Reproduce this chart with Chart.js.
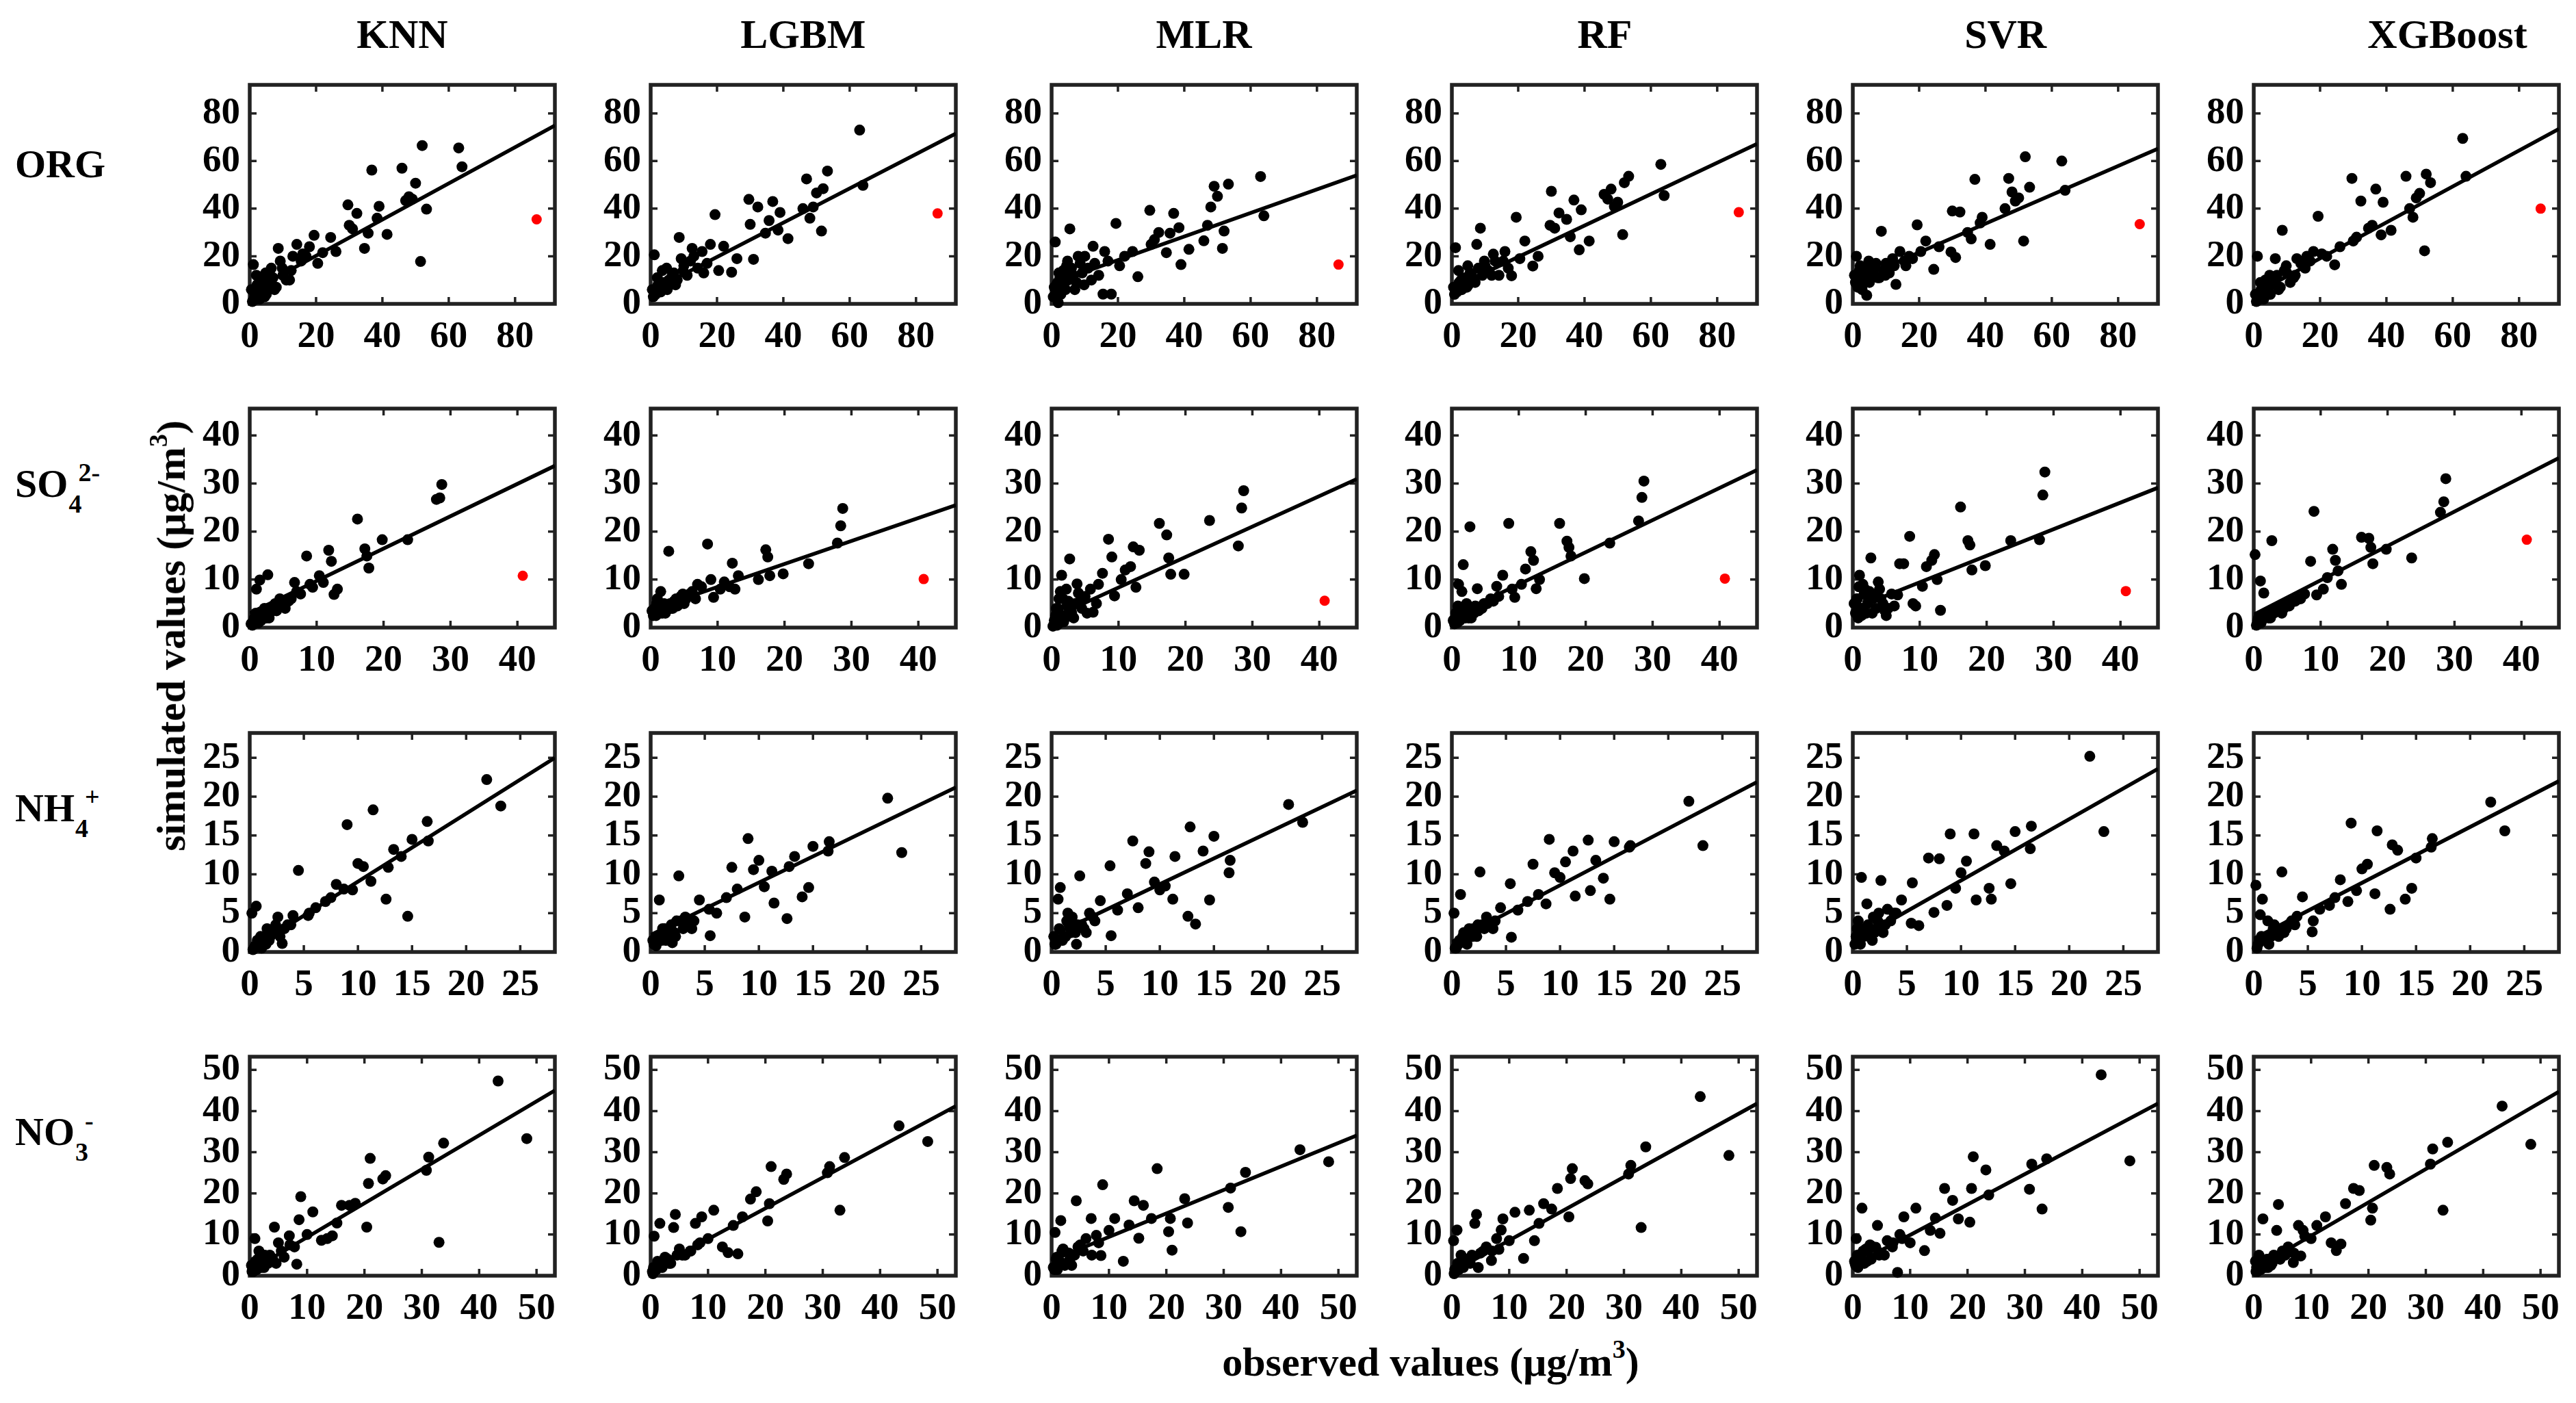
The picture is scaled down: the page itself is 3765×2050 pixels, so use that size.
<!DOCTYPE html>
<html>
<head>
<meta charset="utf-8">
<script src="https://cdn.jsdelivr.net/npm/chart.js@4.4.1/dist/chart.umd.min.js"></script>
<style>
body { margin: 0; background: #fff; }
#fig { position: relative; width: 3765px; height: 2050px; background: #fff; overflow: hidden;
  font-family: "Liberation Serif", "Times New Roman", serif; font-weight: bold; color: #000; }
#fig canvas { position: absolute; }
.lbl { position: absolute; line-height: 1; white-space: nowrap; font-size: 60px; }
.ctr { transform: translate(-50%, -50%); }
.row { transform: translate(0, -50%); font-size: 58px; }
.ion { display: inline-flex; flex-direction: column; align-items: flex-start; font-size: 38px;
  line-height: 1; vertical-align: middle; row-gap: 8px; margin-left: 1px; }
.ion .up { margin-left: 14px; }
sup { font-size: 38px; vertical-align: 26px; line-height: 0; }
</style>
</head>
<body>
<div id="fig"></div>
<script>
'use strict';
var models = ['KNN', 'LGBM', 'MLR', 'RF', 'SVR', 'XGBoost'];

// ORG (observed, then simulated per model)
var orgObs = [64.0, 63.0, 53.3, 52.0, 51.5, 50.0, 49.0, 48.0, 47.0, 45.9,
    41.4, 39.0, 38.4, 36.8, 35.7, 34.6, 32.3, 31.0, 30.0, 29.6,
    24.4, 22.0, 19.4, 17.0, 15.5, 14.2, 12.5, 11.0, 10.0, 8.6,
    7.5, 6.5, 5.5, 5.0, 4.2, 3.5, 3.0, 2.5, 2.0, 1.5,
    1.1, 0.8, 0.5, 9.2, 13.0, 18.0, 20.5, 26.0, 4.8, 2.2,
    3.8, 6.0, 7.0, 8.0, 1.8, 2.8, 4.5, 9.8, 12.0, 16.0];
var orgKNN = [57.6, 65.5, 39.8, 66.5, 17.8, 50.7, 44, 45, 43.4, 57,
    29.2, 41, 36, 56.2, 29.7, 23.3, 38, 31.5, 33, 41.6,
    27.9, 21.5, 28.8, 20, 18, 25, 14, 10, 12, 23.3,
    6, 15, 9, 4, 7, 10, 2, 5, 12, 3,
    16.5, 1, 6, 18, 20, 24, 17, 22, 13, 8,
    4, 8, 11, 7, 2, 5, 3, 15, 10, 21];
var orgLGBM = [49.8, 73, 55.8, 48.4, 30.6, 46.6, 40.7, 36, 52.5, 40,
    27.4, 38.4, 31, 43, 35, 29.7, 40.7, 18.7, 33.4, 43.9,
    13.3, 24.2, 37.5, 17, 22, 15, 23.3, 12, 16, 27.9,
    8, 12, 10, 6, 9, 14, 5, 7, 11, 4,
    20.6, 3, 6, 19, 20, 25, 14, 19, 15, 8,
    7, 9, 13, 10, 5, 6, 8, 14, 18, 13];
var orgMLR = [37, 53.5, 50.3, 30.6, 23.3, 45.2, 49.4, 40.7, 33, 26.5,
    22.9, 16.5, 32, 38, 29.7, 21.5, 30, 27, 25, 39.3,
    22, 20, 33.8, 18, 4.1, 12, 24.2, 15, 20, 17,
    9, 12, 31.5, 10, 6, 14, 8, 11, 0.5, 5,
    26, 7, 3, 13, 17, 4.1, 16, 11.4, 18, 13,
    12, 15, 6, 20, 9, 4, 16, 8, 10, 22];
var orgRF = [45.5, 58.6, 53.6, 50.9, 29.1, 42.7, 40.9, 48.2, 44, 46,
    26.4, 39.5, 22.7, 43.6, 28.2, 35.5, 38.2, 31.8, 47.3, 33,
    15.9, 26.4, 36.4, 15, 18, 12, 20.9, 14, 16, 31.8,
    25, 10, 13, 8, 11, 9, 6, 7, 14, 5,
    23.6, 4, 7, 12, 18, 11.8, 19, 20, 16, 9,
    8, 12, 9, 15, 6, 10, 7, 18, 12, 22];
var orgSVR = [47.7, 60, 49, 61.8, 26.4, 44.5, 43.2, 47, 52.7, 40,
    25, 36.4, 34, 52.3, 27.3, 30, 38.6, 19.5, 39, 21.8,
    14.5, 26.4, 33.2, 20, 18, 22, 16, 13, 17, 30.5,
    11, 15, 12, 9, 3.6, 13, 8, 10, 14, 7,
    20, 9, 12, 14, 8.2, 19, 22, 24, 18, 16,
    10, 14, 17, 11, 13, 6, 15, 12, 19, 16];
var orgXGB = [53.6, 69.5, 50.9, 54.5, 22.3, 46.4, 44.5, 36.4, 40, 53.6,
    30.9, 42.7, 29, 48.2, 33, 31.8, 43.2, 28, 26.4, 52.7,
    16.4, 20, 36.8, 18, 15, 17, 12, 9, 13, 30.9,
    6, 19, 8, 4, 7, 10, 2, 5, 9, 3,
    20, 1, 4, 14, 19, 22, 21, 24, 12, 6,
    5, 9, 12, 7, 2, 6, 4, 16, 11, 20];
var orgOutlierObs = 86.5;
var orgOutlierSim = [35.5, 38, 16.5, 38.5, 33.5, 40];
var orgSlope = [0.76, 0.72, 0.495, 0.66, 0.605, 0.755];
var orgIntercept = [5, 5.3, 8.5, 6.5, 9.5, 4];
var orgMax = 92;
var orgTicks = [0, 20, 40, 60, 80];

// SO4 2-
var so4Obs = [28.7, 28.4, 27.9, 23.6, 19.8, 17.8, 17.5, 17.2, 16.1, 13.1,
    12.6, 12.2, 11.8, 11.0, 10.4, 9.4, 8.5, 7.6, 6.7, 5.8,
    5.0, 4.5, 4.0, 3.5, 3.0, 2.7, 2.3, 2.0, 1.7, 1.5,
    1.2, 1.0, 0.8, 0.6, 0.4, 0.2, 3.8, 6.2, 2.5, 1.3,
    0.9, 4.8, 7.0, 9.0,
    0.7, 1.1, 1.8, 2.2, 2.9, 3.3, 4.2, 5.3];
var so4KNN = [29.8, 27, 26.7, 18.3, 18.3, 12.4, 14.9, 16.4, 22.6, 8,
    6.9, 13.8, 16.1, 9.4, 10.8, 8.4, 14.9, 7, 9.4, 5.5,
    4.5, 6, 3.5, 4, 3, 11, 2.5, 3, 1.5, 9.9,
    2, 8, 1, 1.5, 0.5, 0.8, 5, 6, 2, 1,
    3, 5.5, 7.5, 9,
    2, 1, 2.5, 4, 2, 3.5, 5, 4];
var so4LGBM = [24.8, 21.2, 17.6, 13.3, 11.2, 10.8, 14.7, 16.2, 10, 10.8,
    8, 13.4, 8.5, 9.5, 8, 6.3, 17.4, 8.5, 6, 7,
    5, 6.5, 4.5, 5.5, 4, 15.9, 3.5, 5, 3, 7.5,
    3, 6, 2.5, 4, 2.5, 3.5, 6, 7.5, 4, 3.5,
    5, 7, 9, 10,
    4, 3, 4.5, 3, 5, 4, 5, 6];
var so4MLR = [28.5, 24.9, 17, 22.3, 11.1, 11.1, 14.5, 19.3, 21.7, 16.1,
    8.4, 16.8, 12.7, 12, 10, 6.6, 18.4, 11.3, 5, 8,
    6.5, 4, 7.2, 5, 3, 14.3, 4.5, 2, 6, 10.9,
    1, 3.5, 0.5, 2.5, 1.5, 0.3, 9.1, 3.2, 5.5, 7.5,
    4, 6, 9, 14.7,
    4, 6, 1.2, 8, 3.5, 2, 5.5, 3];
var so4RF = [30.5, 27.1, 22.2, 17.6, 10.2, 14.9, 16.7, 18, 21.7, 10,
    8.1, 14, 15.8, 12.2, 9, 6.3, 21.7, 10.9, 8.6, 6,
    5, 4, 3.5, 4.5, 3, 21, 2.5, 2, 13.1, 7.5,
    1.5, 9, 1, 3, 0.8, 1.5, 8.1, 5.5, 2, 3.5,
    4.5, 5, 6.5, 8,
    1.5, 2.2, 3, 5, 2, 3, 4, 5];
var so4SVR = [32.4, 27.6, 18.3, 18.1, 12.9, 12, 17.2, 18.1, 25.1, 3.6,
    10, 15.2, 14, 12.7, 8.6, 4.5, 19, 13.3, 6.8, 7,
    2.5, 5, 8, 4, 6, 14.5, 5.5, 3, 7, 9,
    4, 10.9, 2, 6, 3, 5, 9.5, 4.5, 7.5, 2.5,
    8.5, 3.5, 13.3, 5,
    6, 4, 8, 5, 3, 7, 6, 4];
var so4XGB = [31, 26.2, 24, 14.5, 16.3, 13.3, 16.7, 18.6, 18.8, 9,
    11.8, 14, 16.3, 10.4, 8, 6.8, 13.8, 7, 6, 5.4,
    5, 4, 4.5, 3.5, 3, 18.1, 2.5, 2.2, 3, 7.2,
    1.5, 9.7, 1, 1.5, 0.5, 15.2, 4, 5.5, 2, 2.5,
    1.5, 4.5, 6, 24.2,
    2, 1, 3, 2, 3.5, 4, 3, 4.5];
var so4OutlierObs = 40.8;
var so4OutlierSim = [10.8, 10.1, 5.6, 10.2, 7.6, 18.3];
var so4Slope = [0.673, 0.478, 0.634, 0.669, 0.553, 0.715];
var so4Intercept = [3, 3.7, 2, 2.3, 3.9, 2.7];
var so4Max = 45.6;
var so4Ticks = [0, 10, 20, 30, 40];

// NH4 +
var nh4Obs = [21.9, 23.2, 16.5, 16.4, 15.0, 14.6, 14.0, 13.3, 12.8, 12.6,
    11.4, 11.2, 10.5, 10.0, 9.5, 9.0, 8.7, 8.0, 7.5, 6.1,
    5.4, 4.5, 4.0, 3.5, 3.0, 2.6, 2.2, 1.9, 1.6, 1.3,
    1.0, 0.8, 0.6, 0.4, 0.2, 2.4, 5.5, 7.0, 1.5, 0.5,
    3.2, 2.0,
    0.3, 0.7, 1.1, 1.4, 1.8, 2.3, 2.8, 3.8];
var nh4KNN = [22.2, 18.8, 14.3, 16.8, 14.5, 4.6, 12.3, 13.2, 10.9, 6.8,
    18.3, 9.1, 11, 11.4, 8, 16.4, 8.1, 8.7, 7, 5.7,
    4.7, 10.5, 4.7, 3.5, 1.1, 4.5, 2.5, 2, 3, 1.5,
    2, 1, 5.9, 0.5, 5, 3.5, 5, 6.5, 1, 0.8,
    3, 2.5,
    0.3, 1.5, 0.5, 2, 1.5, 3, 2, 3.5];
var nh4LGBM = [19.8, 12.8, 14.2, 13, 13.6, 8.3, 7.1, 12.3, 11, 4.3,
    6.3, 10.4, 8.4, 11.8, 10.6, 14.6, 4.5, 8.1, 10.9, 5,
    5.5, 6.7, 4, 3.5, 3, 9.8, 2.5, 3.5, 2, 3,
    1.5, 6.7, 2, 1, 1.5, 4, 2.1, 7, 2.5, 0.8,
    4.5, 1.2,
    1, 2, 3, 1.5, 3, 2, 4, 3];
var nh4MLR = [19, 16.7, 11.8, 10.2, 14.9, 6.7, 13, 3.6, 16.1, 4.6,
    12.3, 6.8, 8.5, 8, 9, 12.9, 11.4, 5.7, 14.3, 5.4,
    11.1, 6.6, 4, 5, 3, 9.8, 2.5, 4.5, 3.5, 2,
    1.5, 8.3, 6.8, 1, 2, 3.5, 2.1, 7.5, 5, 1.5,
    2.5, 3,
    1, 3, 2, 4, 2.5, 1, 3.5, 4.5];
var nh4RF = [19.4, 13.7, 13.7, 13.5, 14.2, 6.8, 9.5, 11.8, 7.9, 14.4,
    7.2, 13, 11.6, 9.6, 10.2, 14.5, 6.2, 7.4, 11.3, 5.4,
    8.8, 5.7, 4, 3.5, 3, 10.3, 2.5, 2, 3, 1.5,
    2, 7.4, 1, 0.5, 5, 3.5, 1.9, 6.5, 2.5, 1,
    4.5, 3,
    0.5, 1.5, 2.5, 1, 2.5, 2, 3.5, 3];
var nh4SVR = [25.2, 15.5, 16.2, 13.3, 15.5, 8.8, 13, 13.7, 6.8, 8.2,
    6.7, 15.2, 11.7, 10.2, 8.2, 15.2, 6, 12, 5.1, 3.4,
    3.7, 6.7, 5, 4, 3.5, 9.2, 3, 4.5, 2.5, 6.2,
    2, 9.6, 1.5, 3, 1, 5, 8.9, 12.1, 2, 4,
    5.5, 2.5,
    2, 1, 3, 3.5, 1.5, 4, 2.5, 5];
var nh4XGB = [19.3, 15.6, 14.6, 13.5, 12.1, 8.2, 6.8, 13.1, 13.8, 5.5,
    15.6, 7.5, 11.3, 10.7, 7.9, 16.6, 6.5, 9.3, 7, 5.5,
    2.6, 7.1, 4.6, 4, 3, 10.3, 2.5, 3.5, 2, 4,
    1.5, 6.8, 4.8, 1, 8.6, 3, 4, 6, 2, 1.5,
    3.5, 2.5,
    0.5, 2, 1.5, 1, 3, 2, 2.5, 3.5];
var nh4Slope = [0.876, 0.674, 0.663, 0.73, 0.79, 0.72];
var nh4Intercept = [0.3, 2.2, 2.1, 1.3, 1.3, 1.7];
var nh4Max = 28.2;
var nh4Ticks = [0, 5, 10, 15, 20, 25];

// NO3 -
var no3Obs = [43.3, 48.3, 33.8, 31.2, 30.8, 21.0, 23.7, 23.2, 20.7, 33.0,
    20.4, 18.4, 17.4, 16.0, 15.2, 14.4, 12.5, 11.0, 8.9, 8.6,
    7.8, 6.9, 5.5, 4.3, 4.0, 3.2, 2.6, 2.0, 1.6, 1.2,
    0.9, 0.6, 0.3, 8.2, 10.0, 5.0, 3.0, 1.4, 0.5, 6.0,
    2.3, 13.5,
    0.4, 0.8, 1.0, 1.8, 2.5, 3.5, 4.6, 7.0];
var no3KNN = [47.3, 33.3, 32.2, 28.8, 25.6, 28.5, 24.3, 23.5, 22.4, 8.1,
    11.8, 17.6, 17.1, 17.1, 12.8, 9.7, 8.6, 15.5, 19.2, 13.6,
    7, 9.7, 6, 11.8, 4, 3, 5, 2, 6, 1.5,
    9, 1, 2.5, 2.8, 10, 8, 3.5, 4, 1.5, 4.5,
    3, 9,
    1, 2, 3.5, 4, 2, 5, 3, 7.5];
var no3LGBM = [36.4, 32.6, 28.7, 26.5, 25, 26.5, 24.7, 23.4, 17.5, 15.9,
    13.3, 20.4, 18.6, 14.3, 5.3, 12.2, 7, 15.9, 14.3, 8,
    12.7, 6, 5, 14.9, 11.7, 3, 4, 2, 12.7, 3.5,
    1.5, 9.6, 1, 7.5, 9, 6.5, 4, 2.5, 2, 5,
    3, 5.6,
    0.5, 2, 1.5, 3, 4.5, 3, 5, 6];
var no3MLR = [30.6, 27.7, 25.1, 21.3, 16.6, 6.2, 12.8, 18.7, 13.9, 10.7,
    10.7, 26, 13.9, 17.1, 9.1, 18.2, 3.5, 13.9, 22.1, 4.9,
    9.8, 13.9, 6, 18.2, 5, 4, 3, 6.5, 13.4, 2.5,
    4.5, 10.5, 2, 8, 11, 7.5, 5.5, 3.5, 1.5, 9,
    2.5, 12.3,
    2, 4, 1.5, 6, 3, 2.5, 7, 5];
var no3RF = [43.5, 29.2, 31.3, 26.8, 24.7, 26, 22.3, 23.1, 23.6, 11.7,
    14.3, 21.2, 16.2, 17.5, 12.7, 8.5, 4.2, 15.4, 13.8, 11.1,
    9, 3.7, 6, 14.9, 12.7, 3, 4, 2, 5, 1.5,
    11.1, 1, 8.5, 6.4, 8.5, 5.5, 3.5, 2.5, 1.5, 7,
    3, 15.9,
    0.5, 1.5, 3, 2.5, 4, 5, 2, 6];
var no3SVR = [48.8, 27.9, 28.4, 27.1, 21, 28.9, 19.6, 25.7, 21.2, 16.2,
    13, 13.8, 18.3, 21.2, 10.3, 14, 6.1, 16.4, 14.3, 9,
    0.8, 7, 5, 12.2, 6.9, 4, 6, 3, 16.4, 4.5,
    2, 9, 3.5, 10, 8, 5.5, 7.5, 5, 2.5, 8.5,
    6.5, 11,
    3, 5, 4, 6, 3.5, 7, 5, 8];
var no3XGB = [41.2, 31.9, 32.4, 30.8, 27.1, 26.8, 24.7, 26.3, 16.4, 15.9,
    13.5, 20.7, 21.2, 17.5, 7.7, 6.1, 14.3, 12.2, 9.6, 11,
    12.2, 3.2, 5, 17.3, 11, 3, 4, 2, 13.8, 1.5,
    5, 1, 3.5, 4.8, 9, 6, 2.5, 3, 2, 7,
    4, 8,
    1, 2.5, 1.5, 3.5, 2, 5, 4, 5.5];
var no3Slope = [0.825, 0.748, 0.571, 0.769, 0.739, 0.81];
var no3Intercept = [1.1, 1.4, 3.7, 0.9, 2.5, 1.6];
var no3Max = 53.2;
var no3Ticks = [0, 10, 20, 30, 40, 50];

var rows = [
    { obs: orgObs, sim: [orgKNN, orgLGBM, orgMLR, orgRF, orgSVR, orgXGB], max: orgMax, ticks: orgTicks,
      outObs: orgOutlierObs, outSim: orgOutlierSim, slope: orgSlope, icpt: orgIntercept,
      label: 'ORG' },
    { obs: so4Obs, sim: [so4KNN, so4LGBM, so4MLR, so4RF, so4SVR, so4XGB], max: so4Max, ticks: so4Ticks,
      outObs: so4OutlierObs, outSim: so4OutlierSim, slope: so4Slope, icpt: so4Intercept,
      label: 'SO<span class="ion"><span class="up">2-</span><span>4</span></span>' },
    { obs: nh4Obs, sim: [nh4KNN, nh4LGBM, nh4MLR, nh4RF, nh4SVR, nh4XGB], max: nh4Max, ticks: nh4Ticks,
      slope: nh4Slope, icpt: nh4Intercept,
      label: 'NH<span class="ion"><span class="up">+</span><span>4</span></span>' },
    { obs: no3Obs, sim: [no3KNN, no3LGBM, no3MLR, no3RF, no3SVR, no3XGB], max: no3Max, ticks: no3Ticks,
      slope: no3Slope, icpt: no3Intercept,
      label: 'NO<span class="ion"><span class="up">-</span><span>3</span></span>' }
];

var FONT = "'Liberation Serif', 'Times New Roman', serif";
var BOX_W = 446, BOX_H = 337;
var PAD_L = 150, PAD_T = 30, PAD_R = 20, PAD_B = 80;
var fig = document.getElementById('fig');

// MATLAB-like box with inward ticks on all four sides
var framePlugin = {
    id: 'frame',
    beforeDatasetsDraw: function(chart) {
        var ctx = chart.ctx, a = chart.chartArea;
        var xs = chart.scales.x, ys = chart.scales.y;
        ctx.save();
        ctx.strokeStyle = '#222';
        ctx.lineWidth = 3.5;
        ctx.beginPath();
        xs.ticks.forEach(function(t) {
            var px = xs.getPixelForValue(t.value);
            ctx.moveTo(px, a.bottom); ctx.lineTo(px, a.bottom - 10);
            ctx.moveTo(px, a.top); ctx.lineTo(px, a.top + 10);
        });
        ys.ticks.forEach(function(t) {
            var py = ys.getPixelForValue(t.value);
            ctx.moveTo(a.left, py); ctx.lineTo(a.left + 10, py);
            ctx.moveTo(a.right, py); ctx.lineTo(a.right - 10, py);
        });
        ctx.stroke();
        ctx.lineWidth = 5.5;
        ctx.strokeRect(a.left, a.top, a.right - a.left, a.bottom - a.top);
        ctx.restore();
    }
};

function axis(row, fitKey, fitVal, pad) {
    return {
        type: 'linear',
        min: 0,
        max: row.max,
        afterBuildTicks: function(s) { s.ticks = row.ticks.map(function(v) { return { value: v }; }); },
        afterFit: function(s) { s[fitKey] = fitVal; },
        grid: { display: false, drawTicks: false },
        border: { display: false },
        ticks: { font: { family: FONT, size: 55, weight: 'bold' }, color: '#000', padding: pad,
                 maxRotation: 0, autoSkip: false }
    };
}

rows.forEach(function(row, r) {
    var boxTop = 107 + 473.3 * r;
    models.forEach(function(model, c) {
        var boxLeft = 365 + 585.8 * c;
        var cv = document.createElement('canvas');
        cv.width = BOX_W + PAD_L + PAD_R;
        cv.height = BOX_H + PAD_T + PAD_B;
        cv.style.left = (boxLeft - PAD_L) + 'px';
        cv.style.top = (boxTop - PAD_T) + 'px';
        cv.style.width = cv.width + 'px';
        cv.style.height = cv.height + 'px';
        fig.appendChild(cv);

        var sim = row.sim[c];
        var pts = row.obs.map(function(v, i) { return { x: v, y: sim[i] }; });
        var m = row.slope[c], b = row.icpt[c];
        var datasets = [
            { type: 'line', data: [{ x: 0, y: b }, { x: row.max, y: b + m * row.max }],
              borderColor: '#000', borderWidth: 5.5, pointRadius: 0, fill: false },
            { data: pts, backgroundColor: '#000', borderWidth: 0, pointRadius: 8, clip: false }
        ];
        if (row.outSim) {
            datasets.push({ data: [{ x: row.outObs, y: row.outSim[c] }], backgroundColor: '#ff0000',
                            borderWidth: 0, pointRadius: 7.5, clip: false });
        }
        new Chart(cv.getContext('2d'), {
            type: 'scatter',
            data: { datasets: datasets },
            options: {
                responsive: false,
                animation: false,
                devicePixelRatio: 1,
                events: [],
                layout: { padding: { left: 0, top: PAD_T, right: PAD_R, bottom: 0 } },
                plugins: { legend: { display: false }, tooltip: { enabled: false } },
                scales: { x: axis(row, 'height', PAD_B, 16), y: axis(row, 'width', PAD_L, 14) }
            },
            plugins: [framePlugin]
        });

        if (r === 0) {
            var t = document.createElement('div');
            t.className = 'lbl ctr';
            // the last title sits a little right of its panel centre in the original
            t.style.left = (boxLeft + BOX_W / 2 + (c === 5 ? 60 : 0)) + 'px';
            t.style.top = '50px';
            t.textContent = model;
            fig.appendChild(t);
        }
    });
    var rl = document.createElement('div');
    rl.className = 'lbl row';
    rl.style.left = '22px';
    rl.style.top = (240 + 473.3 * r) + 'px';
    rl.innerHTML = row.label;
    fig.appendChild(rl);
});

var yt = document.createElement('div');
yt.className = 'lbl';
yt.style.left = '250px';
yt.style.top = '929px';
yt.style.transform = 'translate(-50%, -50%) rotate(-90deg)';
yt.innerHTML = 'simulated values (\u03bcg/m<sup>3</sup>)';
fig.appendChild(yt);

var xt = document.createElement('div');
xt.className = 'lbl ctr';
xt.style.left = '2091px';
xt.style.top = '1990px';
xt.innerHTML = 'observed values (\u03bcg/m<sup>3</sup>)';
fig.appendChild(xt);
</script>
</body>
</html>
